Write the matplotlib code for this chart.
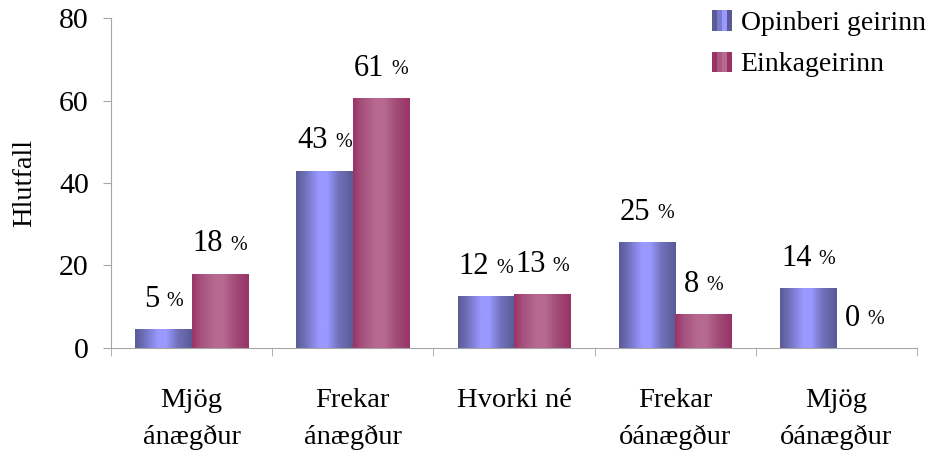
import numpy as np
import matplotlib
matplotlib.use("Agg")
import matplotlib.pyplot as plt
from matplotlib.colors import LinearSegmentedColormap
from matplotlib.legend_handler import HandlerBase
from matplotlib.patches import Rectangle

categories = ["Mjög\nánægður", "Frekar\nánægður", "Hvorki né",
              "Frekar\nóánægður", "Mjög\nóánægður"]
opinberi = [4.5, 43, 12.5, 25.7, 14.5]
einka = [18, 60.6, 13, 8.2, 0]
opinberi_lbl = [5, 43, 12, 25, 14]
einka_lbl = [18, 61, 13, 8, 0]
series_names = ["Opinberi geirinn", "Einkageirinn"]

plt.rcParams["font.family"] = "serif"
plt.rcParams["font.serif"] = ["Liberation Serif", "DejaVu Serif"]

BLUE_DARK = "#5a5a96"
BLUE_LIGHT = "#9999ff"
RED_DARK = "#993366"
RED_LIGHT = "#b76a91"
SPINE = "#a6a6a6"

# left-right shading like the old excel "cylinder" fill
shade = [0.0, 0.15, 0.4, 0.55, 0.75, 1.0]
blue_cm = LinearSegmentedColormap.from_list(
    "b", list(zip(shade, [BLUE_DARK, "#6e6eb8", BLUE_LIGHT, BLUE_LIGHT, "#7171bb", BLUE_DARK])))
red_cm = LinearSegmentedColormap.from_list(
    "r", list(zip(shade, [RED_DARK, "#a5507d", RED_LIGHT, RED_LIGHT, "#a24d79", RED_DARK])))
grad = np.linspace(0, 1, 256).reshape(1, -1)


def shade_bars(ax, bars, cmap):
    for b in bars:
        x0, y0 = b.get_x(), b.get_y()
        w, h = b.get_width(), b.get_height()
        b.set_facecolor("none")
        b.set_edgecolor("none")
        if h <= 0:
            continue
        im = ax.imshow(grad, cmap=cmap, aspect="auto", extent=(x0, x0 + w, y0, y0 + h),
                       interpolation="bilinear", zorder=2)
        im.set_clip_path(b)


class GradHandler(HandlerBase):
    def __init__(self, cols):
        super().__init__()
        self.cols = cols

    def create_artists(self, legend, orig, xd, yd, width, height, fontsize, trans):
        n = len(self.cols)
        side = height * 1.0
        x0 = xd + width - side
        arts = []
        for i, c in enumerate(self.cols):
            arts.append(Rectangle((x0 + i * side / n, -yd), side / n, side,
                                  facecolor=c, edgecolor="none", transform=trans))
        return arts


fig = plt.figure(figsize=(9.35, 4.55), dpi=100)
ax = fig.add_axes([0.1187, 0.2352, 0.862, 0.7252])

x = np.arange(len(categories))
bw = 0.35
b1 = ax.bar(x - bw / 2, opinberi, bw, label=series_names[0])
b2 = ax.bar(x + bw / 2, einka, bw, label=series_names[1])
shade_bars(ax, b1, blue_cm)
shade_bars(ax, b2, red_cm)

ax.set_xlim(-0.5, len(categories) - 0.5)
ax.set_ylim(0, 80)
ax.set_yticks([0, 20, 40, 60, 80])
ax.set_xticks(x)
ax.set_xticklabels(categories, fontsize=20.5, linespacing=1.6)
ax.set_xticks(np.arange(len(categories) + 1) - 0.5, minor=True)
ax.tick_params(axis="x", which="major", length=0, pad=29)
ax.tick_params(axis="x", which="minor", length=6, color=SPINE)
ax.tick_params(axis="y", length=6, color=SPINE, labelsize=21.5, pad=10)
for s in ("top", "right"):
    ax.spines[s].set_visible(False)
for s in ("left", "bottom"):
    ax.spines[s].set_color(SPINE)
ax.set_ylabel("Hlutfall", fontsize=20.5, labelpad=16)

# data labels: number big, % sign small, pair centred over bar
fig.canvas.draw()
rend = fig.canvas.get_renderer()
for bars, lbls in ((b1, opinberi_lbl), (b2, einka_lbl)):
    for b, v in zip(bars, lbls):
        cx = b.get_x() + b.get_width() / 2
        top = b.get_height()
        t1 = ax.annotate(str(v), (cx, top), xytext=(0, 11), textcoords="offset points",
                         ha="left", va="bottom", fontsize=22)
        t2 = ax.annotate("%", (cx, top), xytext=(0, 13.5), textcoords="offset points",
                         ha="left", va="bottom", fontsize=14.5)
        w1 = t1.get_window_extent(rend).width
        w2 = t2.get_window_extent(rend).width
        gap = 7
        tot = w1 + gap + w2
        t1.set_position((-tot / 2 * 72 / fig.dpi, 11))
        t2.set_position(((-tot / 2 + w1 + gap) * 72 / fig.dpi, 13.5))

leg = fig.legend(handles=[b1, b2], labels=series_names, loc="upper right",
                 bbox_to_anchor=(0.99, 0.977), frameon=False, fontsize=20,
                 borderaxespad=0, borderpad=0,
                 handlelength=0.75, handleheight=0.75, handletextpad=0.3, labelspacing=0.55,
                 handler_map={b1: GradHandler([BLUE_DARK, "#7a7acc", BLUE_LIGHT, BLUE_DARK]),
                              b2: GradHandler([RED_DARK, "#a85a82", RED_LIGHT, RED_DARK])})

fig.savefig("out.png", dpi=100)
